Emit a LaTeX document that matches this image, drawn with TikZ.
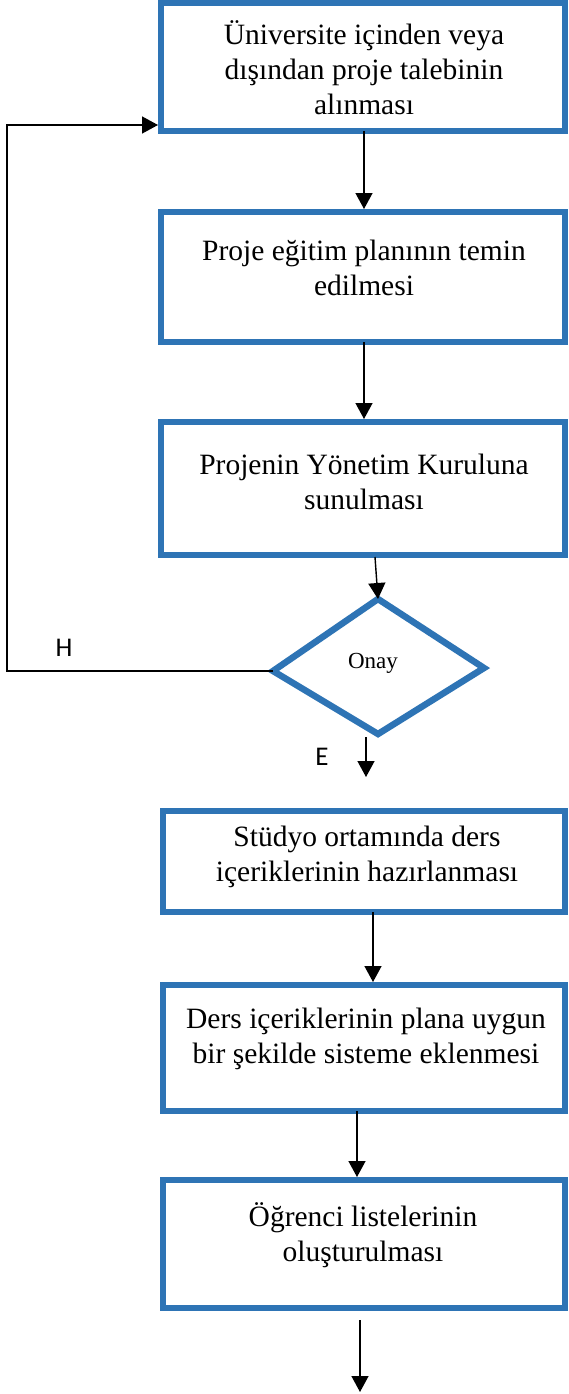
\documentclass[tikz,border=0pt]{standalone}
\usepackage{fontspec}
\setmainfont{Liberation Serif}
\newfontfamily\labfont{Carlito}
\usetikzlibrary{arrows.meta}
\definecolor{boxblue}{HTML}{2E74B5}
\begin{document}
\begin{tikzpicture}[x=1pt,y=-1pt,
  boxline/.style={draw=boxblue,line width=6.5pt},
  txt/.style={align=center,font=\fontsize{29.5}{35}\selectfont,inner sep=0pt},
  conn/.style={draw=black,line width=1.4pt,-{Triangle[length=16pt,width=17pt]}},
  yn/.style={font=\labfont\fontsize{27}{27}\selectfont,inner sep=0pt}]
\useasboundingbox[fill=white] (0,0) rectangle (568,1394);

% boxes
\path[boxline] (161,3) rectangle (565,131);
\coordinate (b1t) at (364,3); \coordinate (b1b) at (364,131); \coordinate (b1l) at (158,125);
\node[txt] (t1) at (364,68) {Üniversite içinden veya\\dışından proje talebinin\\alınması};

\path[boxline] (161,212) rectangle (565,342);
\coordinate (b2t) at (364,209); \coordinate (b2b) at (364,342);
\node[txt] (t2) at (364,268) {Proje eğitim planının temin\\edilmesi};

\path[boxline] (161,422) rectangle (565,555);
\coordinate (b3t) at (364,419); \coordinate (b3b) at (375,557);
\node[txt] (t3) at (364,482) {Projenin Yönetim Kuruluna\\sunulması};

% diamond
\coordinate (dl) at (273,671);
\coordinate (dt) at (378,599);
\coordinate (dr) at (484,668);
\coordinate (db) at (378,734);
\path[boxline,line join=miter] (dl) -- (dt) -- (dr) -- (db) -- cycle;
\node[font=\fontsize{23}{23}\selectfont,inner sep=0pt] (onay) at (373,663) {Onay};

\coordinate (eend) at (366,777);
\coordinate (estart) at (366,737);
\coordinate (lc1) at (7,671);
\coordinate (lc2) at (7,125);

\path[boxline] (163,811) rectangle (565,912);
\coordinate (b4t) at (373,808); \coordinate (b4b) at (373,912);
\node[txt] (t4) at (367,857) {Stüdyo ortamında ders\\içeriklerinin hazırlanması};

\path[boxline] (163,985) rectangle (565,1111);
\coordinate (b5t) at (373,982); \coordinate (b5b) at (357,1111);
\node[txt] (t5) at (366,1039) {Ders içeriklerinin plana uygun\\bir şekilde sisteme eklenmesi};

\path[boxline] (163,1180) rectangle (565,1308);
\coordinate (b6t) at (357,1177); \coordinate (b6b0) at (360,1320);
\node[txt] (t6) at (363,1235) {Öğrenci listelerinin\\oluşturulması};
\coordinate (fend) at (360,1392);

% connectors
\draw[conn] (b1b) -- (b2t);
\draw[conn] (b2b) -- (b3t);
\draw[conn] (b3b) -- (dt);
\draw[conn] (dl) -- (lc1) -- (lc2) -- (b1l);
\draw[conn] (estart) -- (eend);
\draw[conn] (b4b) -- (b5t);
\draw[conn] (b5b) -- (b6t);
\draw[conn] (b6b0) -- (fend);

\node[yn] (H) at (64,648) {H};
\node[yn] (E) at (322,757) {E};
\end{tikzpicture}
\end{document}
